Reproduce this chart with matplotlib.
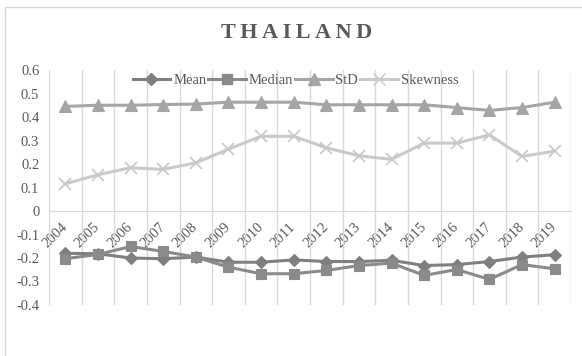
import numpy as np
import matplotlib.pyplot as plt
from matplotlib.lines import Line2D
from matplotlib.patches import Rectangle

years = [str(y) for y in range(2004, 2020)]
mean = [-0.18, -0.182, -0.20, -0.203, -0.196, -0.218, -0.218, -0.208,
        -0.215, -0.215, -0.21, -0.232, -0.228, -0.215, -0.196, -0.186]
median = [-0.203, -0.185, -0.151, -0.172, -0.196, -0.239, -0.267, -0.267,
          -0.253, -0.232, -0.222, -0.274, -0.249, -0.291, -0.228, -0.246]
std = [0.445, 0.45, 0.45, 0.453, 0.455, 0.463, 0.463, 0.463,
       0.452, 0.452, 0.452, 0.452, 0.44, 0.428, 0.44, 0.463]
skew = [0.116, 0.154, 0.184, 0.177, 0.205, 0.263, 0.318, 0.318,
        0.269, 0.235, 0.22, 0.289, 0.289, 0.324, 0.232, 0.255]

plt.rcParams['font.family'] = ['Liberation Serif', 'DejaVu Serif']
txt = '#595959'
grid = '#d9d9d9'

fig = plt.figure(figsize=(5.82, 3.56), dpi=100)
# chart border
fig.patches.append(Rectangle((5 / 582, -0.1), 1.2, 1 - 7 / 356 + 0.1,
                             transform=fig.transFigure, fill=False,
                             edgecolor=grid, lw=1))
ax = fig.add_axes([49 / 582, 1 - 305 / 356, 522 / 582, 235 / 356])

x = np.arange(len(years))
series = [
    ('Mean', mean, 'D', '#7f7f7f', 6),
    ('Median', median, 's', '#8a8a8a', 7.5),
    ('StD', std, '^', '#a5a5a5', 8),
    ('Skewness', skew, 'x', '#c9c9c9', 8),
]
handles = []
for name, vals, mk, col, ms in series:
    ax.plot(x, vals, color=col, lw=2.2, marker=mk, markersize=ms,
            markeredgewidth=1.2 if mk == 'x' else 0.8, markeredgecolor=col,
            markerfacecolor=col, zorder=3)
    handles.append(Line2D([], [], color=col, lw=2.2, marker=mk, markersize=ms,
                          markeredgecolor=col, markerfacecolor=col))

# axis line at zero (set before tick labels, it resets ticks)
for s in ['top', 'right', 'left']:
    ax.spines[s].set_visible(False)
ax.spines['bottom'].set_position(('data', 0))
ax.spines['bottom'].set_color(grid)
ax.spines['bottom'].set_zorder(1)

ax.set_xlim(-0.5, len(years) - 0.5)
ax.set_ylim(-0.4, 0.6)
ax.set_yticks(np.arange(-0.4, 0.61, 0.1))
ax.set_yticklabels(['-0.4', '-0.3', '-0.2', '-0.1', '0', '0.1', '0.2',
                    '0.3', '0.4', '0.5', '0.6'])
ax.set_xticks(x)
ax.set_xticklabels(years)
ax.set_xticks(np.arange(-0.5, len(years)), minor=True)
ax.grid(True, which='minor', axis='x', color=grid, lw=1, zorder=0)

ax.tick_params(axis='both', which='both', length=0, labelsize=10.5,
               colors=txt)
ax.tick_params(axis='x', pad=10)
ax.tick_params(axis='y', pad=7)
plt.setp(ax.get_xticklabels(), rotation=45, ha='right', va='center',
         rotation_mode='anchor')
ax.set_facecolor('none')

ax.legend(handles, [s[0] for s in series], loc='upper center',
          bbox_to_anchor=(0.472, 1.04), ncol=4, frameon=False,
          fontsize=10.5, handlelength=2.6, columnspacing=0.1,
          handletextpad=0.2, labelcolor=txt)

fig.text(297 / 582, 1 - 33 / 356, 'T\u2009H\u2009A\u2009I\u2009L\u2009A\u2009N\u2009D',
         ha='center', va='center', fontsize=16, fontweight='bold', color=txt)

fig.savefig('out.png', dpi=100)
